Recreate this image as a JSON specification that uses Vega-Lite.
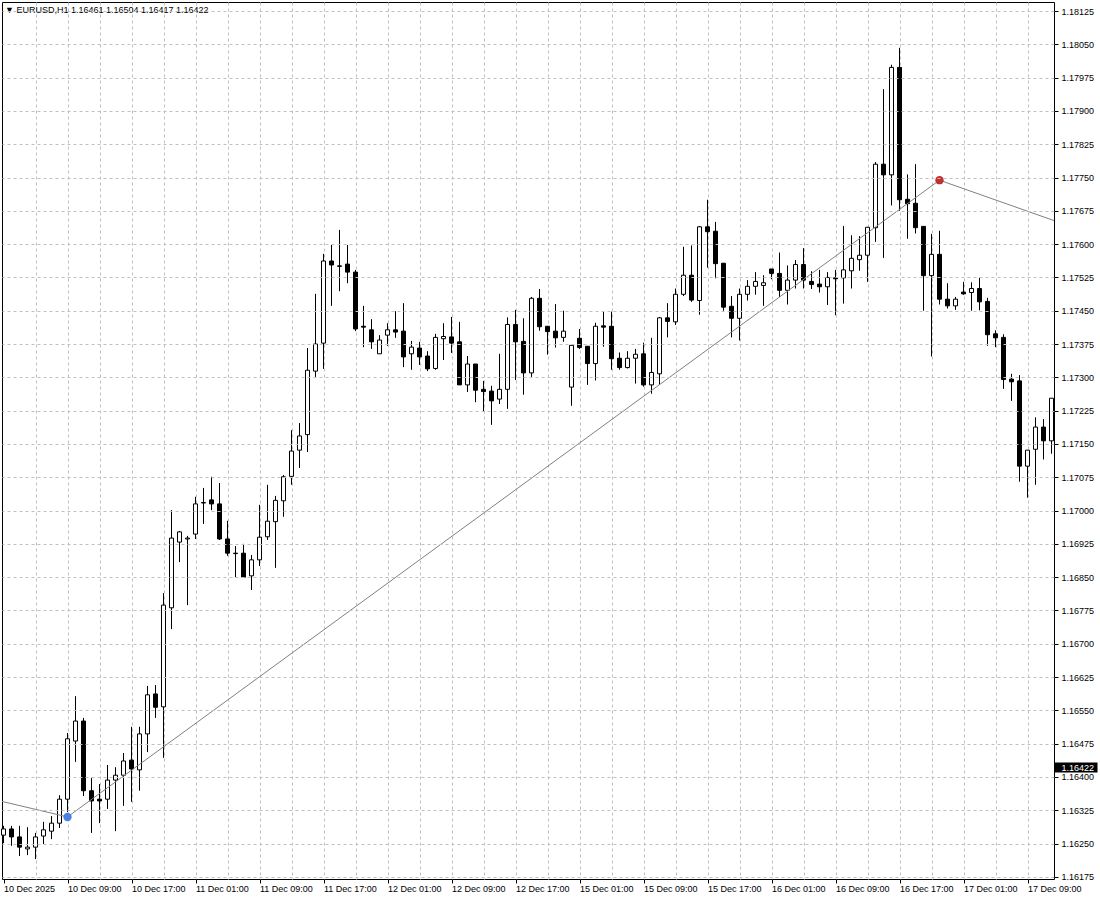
{
  "$schema": "https://vega.github.io/schema/vega-lite/v6.json",
  "width": 1052,
  "height": 877,
  "autosize": {"type": "none"},
  "padding": {"left": 2, "top": 2, "right": 46, "bottom": 21},
  "background": "white",
  "view": {"stroke": "black", "strokeWidth": 1},
  "title": {
    "text": "▼ EURUSD,H1  1.16461 1.16504 1.16417 1.16422",
    "anchor": "start",
    "frame": "group",
    "orient": "top",
    "offset": -17,
    "baseline": "middle",
    "dx": 3,
    "font": "Liberation Sans",
    "fontSize": 9,
    "fontWeight": "normal",
    "color": "black"
  },
  "datasets": {
    "candles": [
      {"i":0,"o":1.16269,"h":1.16290,"l":1.16251,"c":1.16283},
      {"i":1,"o":1.16283,"h":1.16290,"l":1.16245,"c":1.16265},
      {"i":2,"o":1.16265,"h":1.16290,"l":1.16222,"c":1.16242},
      {"i":3,"o":1.16238,"h":1.16287,"l":1.16224,"c":1.16242},
      {"i":4,"o":1.16242,"h":1.16274,"l":1.16215,"c":1.16265},
      {"i":5,"o":1.16267,"h":1.16299,"l":1.16249,"c":1.16281},
      {"i":6,"o":1.16278,"h":1.16312,"l":1.16260,"c":1.16296},
      {"i":7,"o":1.16296,"h":1.16359,"l":1.16285,"c":1.16350},
      {"i":8,"o":1.16350,"h":1.16499,"l":1.16321,"c":1.16486},
      {"i":9,"o":1.16481,"h":1.16582,"l":1.16434,"c":1.16526},
      {"i":10,"o":1.16526,"h":1.16533,"l":1.16357,"c":1.16369},
      {"i":11,"o":1.16369,"h":1.16398,"l":1.16274,"c":1.16346},
      {"i":12,"o":1.16350,"h":1.16384,"l":1.16296,"c":1.16346},
      {"i":13,"o":1.16350,"h":1.16427,"l":1.16328,"c":1.16393},
      {"i":14,"o":1.16393,"h":1.16422,"l":1.16278,"c":1.16404},
      {"i":15,"o":1.16404,"h":1.16454,"l":1.16335,"c":1.16436},
      {"i":16,"o":1.16438,"h":1.16513,"l":1.16344,"c":1.16418},
      {"i":17,"o":1.16416,"h":1.16513,"l":1.16369,"c":1.16497},
      {"i":18,"o":1.16497,"h":1.16605,"l":1.16456,"c":1.16585},
      {"i":19,"o":1.16587,"h":1.16607,"l":1.16533,"c":1.16557},
      {"i":20,"o":1.16558,"h":1.16814,"l":1.16443,"c":1.16787},
      {"i":21,"o":1.16781,"h":1.17001,"l":1.16733,"c":1.16938},
      {"i":22,"o":1.16929,"h":1.16954,"l":1.16884,"c":1.16952},
      {"i":23,"o":1.16936,"h":1.16943,"l":1.16787,"c":1.16938},
      {"i":24,"o":1.16947,"h":1.17031,"l":1.16936,"c":1.17015},
      {"i":25,"o":1.17017,"h":1.17051,"l":1.16970,"c":1.17018},
      {"i":26,"o":1.17024,"h":1.17076,"l":1.17001,"c":1.17015},
      {"i":27,"o":1.17015,"h":1.17062,"l":1.16934,"c":1.16936},
      {"i":28,"o":1.16936,"h":1.16977,"l":1.16898,"c":1.16904},
      {"i":29,"o":1.16904,"h":1.16920,"l":1.16850,"c":1.16903},
      {"i":30,"o":1.16904,"h":1.16925,"l":1.16848,"c":1.16850},
      {"i":31,"o":1.16853,"h":1.16900,"l":1.16821,"c":1.16889},
      {"i":32,"o":1.16889,"h":1.17013,"l":1.16875,"c":1.16940},
      {"i":33,"o":1.16941,"h":1.17058,"l":1.16934,"c":1.16976},
      {"i":34,"o":1.16975,"h":1.17033,"l":1.16871,"c":1.17023},
      {"i":35,"o":1.17022,"h":1.17080,"l":1.16986,"c":1.17076},
      {"i":36,"o":1.17077,"h":1.17181,"l":1.17058,"c":1.17134},
      {"i":37,"o":1.17136,"h":1.17197,"l":1.17096,"c":1.17168},
      {"i":38,"o":1.17171,"h":1.17366,"l":1.17132,"c":1.17316},
      {"i":39,"o":1.17314,"h":1.17488,"l":1.17301,"c":1.17375},
      {"i":40,"o":1.17377,"h":1.17578,"l":1.17319,"c":1.17562},
      {"i":41,"o":1.17562,"h":1.17598,"l":1.17461,"c":1.17553},
      {"i":42,"o":1.17551,"h":1.17632,"l":1.17494,"c":1.17550},
      {"i":43,"o":1.17555,"h":1.17598,"l":1.17512,"c":1.17537},
      {"i":44,"o":1.17537,"h":1.17542,"l":1.17404,"c":1.17409},
      {"i":45,"o":1.17415,"h":1.17461,"l":1.17368,"c":1.17413},
      {"i":46,"o":1.17407,"h":1.17431,"l":1.17364,"c":1.17380},
      {"i":47,"o":1.17353,"h":1.17395,"l":1.17353,"c":1.17384},
      {"i":48,"o":1.17395,"h":1.17422,"l":1.17371,"c":1.17407},
      {"i":49,"o":1.17407,"h":1.17449,"l":1.17389,"c":1.17402},
      {"i":50,"o":1.17404,"h":1.17467,"l":1.17323,"c":1.17346},
      {"i":51,"o":1.17353,"h":1.17382,"l":1.17317,"c":1.17368},
      {"i":52,"o":1.17366,"h":1.17380,"l":1.17328,"c":1.17346},
      {"i":53,"o":1.17348,"h":1.17359,"l":1.17314,"c":1.17319},
      {"i":54,"o":1.17320,"h":1.17398,"l":1.17317,"c":1.17390},
      {"i":55,"o":1.17387,"h":1.17422,"l":1.17339,"c":1.17392},
      {"i":56,"o":1.17391,"h":1.17436,"l":1.17355,"c":1.17377},
      {"i":57,"o":1.17380,"h":1.17425,"l":1.17283,"c":1.17283},
      {"i":58,"o":1.17283,"h":1.17348,"l":1.17267,"c":1.17330},
      {"i":59,"o":1.17330,"h":1.17330,"l":1.17244,"c":1.17271},
      {"i":60,"o":1.17273,"h":1.17292,"l":1.17222,"c":1.17268},
      {"i":61,"o":1.17269,"h":1.17281,"l":1.17193,"c":1.17247},
      {"i":62,"o":1.17251,"h":1.17353,"l":1.17240,"c":1.17273},
      {"i":63,"o":1.17273,"h":1.17435,"l":1.17229,"c":1.17419},
      {"i":64,"o":1.17419,"h":1.17452,"l":1.17294,"c":1.17380},
      {"i":65,"o":1.17381,"h":1.17433,"l":1.17261,"c":1.17310},
      {"i":66,"o":1.17310,"h":1.17481,"l":1.17301,"c":1.17478},
      {"i":67,"o":1.17478,"h":1.17499,"l":1.17405,"c":1.17414},
      {"i":68,"o":1.17415,"h":1.17415,"l":1.17351,"c":1.17403},
      {"i":69,"o":1.17404,"h":1.17465,"l":1.17367,"c":1.17389},
      {"i":70,"o":1.17390,"h":1.17450,"l":1.17380,"c":1.17404},
      {"i":71,"o":1.17278,"h":1.17372,"l":1.17236,"c":1.17372},
      {"i":72,"o":1.17388,"h":1.17409,"l":1.17364,"c":1.17367},
      {"i":73,"o":1.17370,"h":1.17370,"l":1.17283,"c":1.17331},
      {"i":74,"o":1.17331,"h":1.17423,"l":1.17293,"c":1.17415},
      {"i":75,"o":1.17416,"h":1.17448,"l":1.17369,"c":1.17413},
      {"i":76,"o":1.17415,"h":1.17448,"l":1.17317,"c":1.17342},
      {"i":77,"o":1.17343,"h":1.17356,"l":1.17317,"c":1.17322},
      {"i":78,"o":1.17322,"h":1.17359,"l":1.17320,"c":1.17343},
      {"i":79,"o":1.17343,"h":1.17364,"l":1.17286,"c":1.17352},
      {"i":80,"o":1.17353,"h":1.17378,"l":1.17279,"c":1.17283},
      {"i":81,"o":1.17283,"h":1.17389,"l":1.17263,"c":1.17311},
      {"i":82,"o":1.17308,"h":1.17436,"l":1.17283,"c":1.17434},
      {"i":83,"o":1.17434,"h":1.17467,"l":1.17390,"c":1.17426},
      {"i":84,"o":1.17425,"h":1.17500,"l":1.17418,"c":1.17487},
      {"i":85,"o":1.17487,"h":1.17594,"l":1.17483,"c":1.17530},
      {"i":86,"o":1.17530,"h":1.17597,"l":1.17470,"c":1.17474},
      {"i":87,"o":1.17473,"h":1.17641,"l":1.17441,"c":1.17639},
      {"i":88,"o":1.17639,"h":1.17700,"l":1.17547,"c":1.17628},
      {"i":89,"o":1.17629,"h":1.17650,"l":1.17523,"c":1.17556},
      {"i":90,"o":1.17557,"h":1.17557,"l":1.17450,"c":1.17458},
      {"i":91,"o":1.17460,"h":1.17483,"l":1.17390,"c":1.17433},
      {"i":92,"o":1.17433,"h":1.17500,"l":1.17383,"c":1.17487},
      {"i":93,"o":1.17487,"h":1.17519,"l":1.17473,"c":1.17505},
      {"i":94,"o":1.17505,"h":1.17537,"l":1.17486,"c":1.17516},
      {"i":95,"o":1.17507,"h":1.17530,"l":1.17461,"c":1.17513},
      {"i":96,"o":1.17544,"h":1.17544,"l":1.17521,"c":1.17534},
      {"i":97,"o":1.17534,"h":1.17581,"l":1.17481,"c":1.17496},
      {"i":98,"o":1.17496,"h":1.17552,"l":1.17464,"c":1.17519},
      {"i":99,"o":1.17519,"h":1.17564,"l":1.17500,"c":1.17554},
      {"i":100,"o":1.17554,"h":1.17591,"l":1.17500,"c":1.17519},
      {"i":101,"o":1.17516,"h":1.17539,"l":1.17499,"c":1.17509},
      {"i":102,"o":1.17510,"h":1.17542,"l":1.17491,"c":1.17504},
      {"i":103,"o":1.17504,"h":1.17537,"l":1.17463,"c":1.17525},
      {"i":104,"o":1.17524,"h":1.17542,"l":1.17440,"c":1.17522},
      {"i":105,"o":1.17524,"h":1.17641,"l":1.17466,"c":1.17542},
      {"i":106,"o":1.17540,"h":1.17620,"l":1.17500,"c":1.17568},
      {"i":107,"o":1.17565,"h":1.17618,"l":1.17540,"c":1.17575},
      {"i":108,"o":1.17575,"h":1.17638,"l":1.17515,"c":1.17638},
      {"i":109,"o":1.17637,"h":1.17785,"l":1.17605,"c":1.17780},
      {"i":110,"o":1.17780,"h":1.17949,"l":1.17569,"c":1.17756},
      {"i":111,"o":1.17756,"h":1.18004,"l":1.17687,"c":1.17998},
      {"i":112,"o":1.17998,"h":1.18042,"l":1.17675,"c":1.17700},
      {"i":113,"o":1.17701,"h":1.17757,"l":1.17612,"c":1.17691},
      {"i":114,"o":1.17692,"h":1.17780,"l":1.17624,"c":1.17637},
      {"i":115,"o":1.17640,"h":1.17640,"l":1.17450,"c":1.17529},
      {"i":116,"o":1.17529,"h":1.17623,"l":1.17347,"c":1.17577},
      {"i":117,"o":1.17577,"h":1.17630,"l":1.17464,"c":1.17476},
      {"i":118,"o":1.17476,"h":1.17512,"l":1.17455,"c":1.17461},
      {"i":119,"o":1.17461,"h":1.17481,"l":1.17452,"c":1.17476},
      {"i":120,"o":1.17492,"h":1.17515,"l":1.17486,"c":1.17488},
      {"i":121,"o":1.17491,"h":1.17514,"l":1.17450,"c":1.17500},
      {"i":122,"o":1.17500,"h":1.17524,"l":1.17451,"c":1.17470},
      {"i":123,"o":1.17471,"h":1.17479,"l":1.17371,"c":1.17396},
      {"i":124,"o":1.17398,"h":1.17406,"l":1.17368,"c":1.17389},
      {"i":125,"o":1.17390,"h":1.17397,"l":1.17274,"c":1.17295},
      {"i":126,"o":1.17296,"h":1.17308,"l":1.17247,"c":1.17290},
      {"i":127,"o":1.17292,"h":1.17305,"l":1.17065,"c":1.17100},
      {"i":128,"o":1.17100,"h":1.17136,"l":1.17029,"c":1.17136},
      {"i":129,"o":1.17138,"h":1.17210,"l":1.17058,"c":1.17188},
      {"i":130,"o":1.17188,"h":1.17206,"l":1.17115,"c":1.17157},
      {"i":131,"o":1.17157,"h":1.17253,"l":1.17128,"c":1.17253}
    ],
    "zigzag": [
      {"i":-0.1875,"p":1.16345},
      {"i":8,"p":1.16310},
      {"i":117,"p":1.17744},
      {"i":131.3125,"p":1.17653}
    ],
    "dots": [
      {"i":8,"p":1.16310,"k":"low"},
      {"i":117,"p":1.17744,"k":"high"}
    ],
    "last": [
      {"p":1.16422}
    ]
  },
  "encoding": {
    "x": {
      "field": "i", "type": "quantitative",
      "scale": {"domain": [-0.1875, 131.3125], "nice": false, "zero": false, "padding": 0},
      "axis": {
        "orient": "bottom",
        "values": [0,4,8,12,16,20,24,28,32,36,40,44,48,52,56,60,64,68,72,76,80,84,88,92,96,100,104,108,112,116,120,124,128],
        "grid": true, "gridDash": [3, 3], "gridColor": "#c0c0c0",
        "gridOpacity": {"condition": {"test": "datum.value == 0", "value": 0}, "value": 1},
        "tickOpacity": {"condition": {"test": "datum.value % 8 != 0", "value": 0}, "value": 1},
        "ticks": true, "tickSize": 4, "tickColor": "black", "domain": false, "title": null,
        "labelExpr": "datum.value % 8 == 0 ? ['10 Dec 2025','10 Dec 09:00','10 Dec 17:00','11 Dec 01:00','11 Dec 09:00','11 Dec 17:00','12 Dec 01:00','12 Dec 09:00','12 Dec 17:00','15 Dec 01:00','15 Dec 09:00','15 Dec 17:00','16 Dec 01:00','16 Dec 09:00','16 Dec 17:00','17 Dec 01:00','17 Dec 09:00'][datum.value / 8] : ''",
        "labelAlign": "left", "labelBaseline": "top", "labelPadding": 1, "labelFont": "Liberation Sans",
        "labelFontSize": 9, "labelColor": "black", "labelFlush": false, "labelOverlap": false, "labelBound": false,
        "zindex": 0
      }
    }
  },
  "resolve": {"scale": {"x": "shared", "y": "shared"}, "axis": {"x": "shared", "y": "independent"}},
  "layer": [
    {
      "data": {"name": "last"},
      "mark": {"type": "rule", "color": "#c0c0c0", "strokeWidth": 1},
      "encoding": {
        "x": {"datum": -0.1875, "type": "quantitative"},
        "x2": {"datum": 131.3125},
        "y": {
          "field": "p", "type": "quantitative",
          "scale": {"domain": [1.1617026, 1.1814527], "nice": false, "zero": false},
          "axis": {
            "orient": "right", "values": [1.16422], "format": ".5f", "grid": false,
            "domain": false, "title": null, "tickSize": 43, "tickWidth": 10, "tickColor": "black",
            "labelColor": "white", "labelPadding": -36, "labelFont": "Liberation Sans",
            "labelFontSize": 9, "labelFlush": false, "labelOverlap": false, "zindex": 2
          }
        }
      }
    },
    {
      "data": {"name": "candles"},
      "mark": {"type": "rule", "color": "black", "strokeWidth": 1},
      "encoding": {
        "y": {
          "field": "l", "type": "quantitative",
          "scale": {"domain": [1.1617026, 1.1814527], "nice": false, "zero": false},
          "axis": {
            "orient": "right",
            "values": [1.16175,1.1625,1.16325,1.164,1.16475,1.1655,1.16625,1.167,1.16775,1.1685,1.16925,1.17,1.17075,1.1715,1.17225,1.173,1.17375,1.1745,1.17525,1.176,1.17675,1.1775,1.17825,1.179,1.17975,1.1805,1.18125],
            "format": ".5f", "grid": true, "gridDash": [3, 3], "gridColor": "#c0c0c0",
            "domain": false, "title": null, "tickSize": 4, "tickColor": "black",
            "labelPadding": 3, "labelFont": "Liberation Sans", "labelFontSize": 9, "labelColor": "black",
            "labelFlush": false, "labelOverlap": false, "labelBound": false, "zindex": 1
          }
        },
        "y2": {"field": "h"}
      }
    },
    {
      "data": {"name": "candles"},
      "mark": {"type": "bar", "width": 4, "stroke": "black", "strokeWidth": 1},
      "encoding": {
        "y": {"field": "o", "type": "quantitative", "scale": {"domain": [1.1617026, 1.1814527], "nice": false, "zero": false}, "axis": null},
        "y2": {"field": "c"},
        "fill": {"condition": {"test": "datum.c >= datum.o", "value": "white"}, "value": "black"}
      }
    },
    {
      "data": {"name": "zigzag"},
      "mark": {"type": "line", "color": "#808080", "strokeWidth": 1, "clip": true},
      "encoding": {
        "y": {"field": "p", "type": "quantitative", "scale": {"domain": [1.1617026, 1.1814527], "nice": false, "zero": false}, "axis": null}
      }
    },
    {
      "data": {"name": "dots"},
      "mark": {"type": "circle", "size": 70, "opacity": 1},
      "encoding": {
        "y": {"field": "p", "type": "quantitative", "scale": {"domain": [1.1617026, 1.1814527], "nice": false, "zero": false}, "axis": null},
        "color": {"field": "k", "type": "nominal", "scale": {"domain": ["low", "high"], "range": ["#4a7fe3", "#c0302f"]}, "legend": null}
      }
    }
  ]
}
